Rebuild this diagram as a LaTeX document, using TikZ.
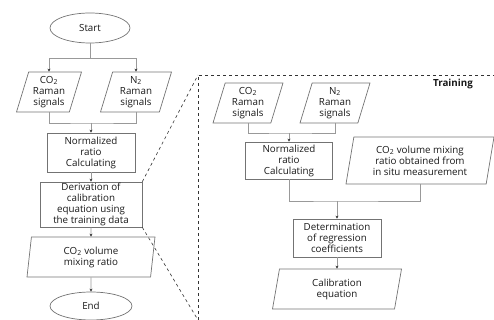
\documentclass[tikz,border=0pt]{standalone}
\usepackage{fontspec}
\setmainfont{Open Sans}
\usepackage{tikz}
\usetikzlibrary{arrows.meta,shapes.geometric,positioning}

\begin{document}
\begin{tikzpicture}
	[x=1pt,y=-1pt,
	term/.style={ellipse,draw=black!55,line width=0.7pt,text=black!90,
		inner sep=0pt,font=\fontsize{9.8}{11}\selectfont},
	proc/.style={rectangle,draw=black!55,line width=0.7pt,text=black!90,
		inner sep=1pt,align=center,font=\fontsize{9.8}{11}\selectfont},
	io/.style={trapezium,trapezium left angle=#1,trapezium right angle={180-#1},
		trapezium stretches body,draw=black!55,line width=0.7pt,text=black!90,
		inner sep=1pt,align=center,font=\fontsize{9.8}{11}\selectfont},
	io/.default=70,
	line/.style={draw=black!40,line width=0.7pt},
	arr/.style={line,-{Stealth[length=3pt,width=3pt,black!80]}}]
\useasboundingbox (0,0) rectangle (494,320);
%left chart
\node[term,minimum width=80pt,minimum height=30pt] (start) at (90,28) {Start};
\node[io,minimum width=65pt,minimum height=40pt] (co2a) at (49,92) {CO\textsubscript{2}\\Raman\\signals};
\node[io,minimum width=71pt,minimum height=40pt] (n2a) at (136,92) {N\textsubscript{2}\\Raman\\signals};
\node[proc,minimum width=88pt,minimum height=39pt] (norma) at (91,152.5) {Normalized\\ratio\\Calculating};
\node[proc,minimum width=102pt,minimum height=45pt] (deriv) at (91,204.5) {Derivation of\\calibration\\equation using\\the training data};
\node[io=79,minimum width=128pt,minimum height=40pt] (vola) at (91,257) {CO\textsubscript{2} volume\\mixing ratio};
\node[term,minimum width=82pt,minimum height=28pt] (end) at (91,306) {End};
\coordinate (js) at (90,58);
\coordinate (ja) at (91,123);
\draw[line] (start.south) -- (js);
\draw[arr] (js) -| (co2a.north);
\draw[arr] (js) -| (n2a.north);
\draw[line] (co2a.south) |- (ja) -| (n2a.south);
\draw[arr] (ja) -- (norma.north);
\draw[arr] (norma) -- (deriv);
\draw[arr] (deriv) -- (vola);
\draw[arr] (vola) -- (end);

%training part
\coordinate (tl) at (198,75);
\coordinate (bl) at (198,320);
\coordinate (tr) at (494,75);
\draw[black!80,dashed,line width=0.6pt] (bl) -- (tl) -- (tr);
\draw[black!80,dashed,line width=0.6pt] (deriv.north east) -- (tl);
\draw[black!80,dashed,line width=0.6pt] (deriv.south east) -- (bl);
\node[font=\fontsize{9.8}{11}\selectfont\bfseries,text=black!90] (train) at (453,84) {Training};
\node[io,minimum width=70pt,minimum height=40pt] (co2b) at (248,103) {CO\textsubscript{2}\\Raman\\signals};
\node[io,minimum width=70pt,minimum height=40pt] (n2b) at (335,103) {N\textsubscript{2}\\Raman\\signals};
\node[proc,minimum width=87pt,minimum height=37pt] (normb) at (289,160.5) {Normalized\\ratio\\Calculating};
\node[io=76,minimum width=148pt,minimum height=47pt] (mix) at (420,160.5) {CO\textsubscript{2} volume mixing\\ratio obtained from\\in situ measurement};
\node[proc,minimum width=88pt,minimum height=38pt] (det) at (337,238) {Determination\\of regression\\coefficients};
\node[io=73,minimum width=129pt,minimum height=40pt] (calib) at (337,289) {Calibration\\equation};
\coordinate (jb) at (289,133);
\coordinate (jc) at (337,201);
\draw[line] (co2b.south) |- (jb) -| (n2b.south);
\draw[arr] (jb) -- (normb.north);
\draw[line] (normb.south) |- (jc) -| (mix.south);
\draw[arr] (jc) -- (det.north);
\draw[arr] (det) -- (calib);
\end{tikzpicture}
\end{document}
